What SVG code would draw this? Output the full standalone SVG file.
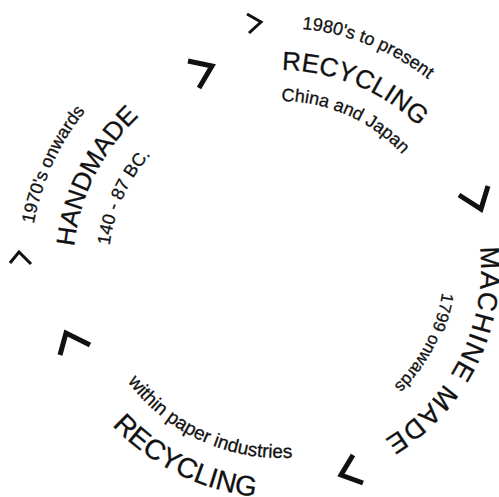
<svg xmlns="http://www.w3.org/2000/svg" xmlns:xlink="http://www.w3.org/1999/xlink" width="499" height="497" viewBox="0 0 499 497">
<style>
text{font-family:"Liberation Sans",Arial,sans-serif;fill:#111;stroke:#111;stroke-width:0.3;text-anchor:middle}
.main{font-size:26px}
.small{font-size:18px}
.chev{fill:none;stroke:#111;stroke-linejoin:miter;stroke-linecap:butt}
.big{stroke-width:5}
.sm{stroke-width:3}
</style>
<defs>
<path id="c250" d="M33.8,224.6 A250,250 0 0 1 526.2,224.6"/>
<path id="c240" d="M43.65,226.34 A240,240 0 0 1 516.35,226.34"/>
<path id="c207" d="M76.15,232.06 A207,207 0 0 1 483.85,232.06"/>
<path id="c201" d="M82.06,233.11 A201,201 0 0 1 477.94,233.11"/>
<path id="c198" d="M85.01,233.63 A198,198 0 0 1 474.99,233.63"/>
<path id="c172" d="M110.61,238.14 A172,172 0 0 1 449.39,238.14"/>
<path id="c167" d="M115.54,239.01 A167,167 0 0 1 444.46,239.01"/>
<path id="c164" d="M118.49,239.53 A164,164 0 0 1 441.51,239.53"/>
<path id="b190" d="M92.89,300.98 A190,190 0 0 0 467.11,300.98"/>
<path id="b230" d="M53.5,307.93 A230,230 0 0 0 506.5,307.93"/>
</defs>
<g id="recycling-top">
<text class="small" transform="rotate(21.7 280 268)"><textPath xlink:href="#c240" href="#c240" startOffset="50%">1980's to present</textPath></text>
<text class="main" transform="rotate(22.5 280 268)"><textPath xlink:href="#c198" href="#c198" startOffset="50%">RECYCLING</textPath></text>
<text class="small" transform="rotate(23.8 280 268)"><textPath xlink:href="#c167" href="#c167" startOffset="50%">China and Japan</textPath></text>
</g>
<g id="handmade">
<text class="small" transform="rotate(-65.5 280 268)"><textPath xlink:href="#c250" href="#c250" startOffset="50%">1970's onwards</textPath></text>
<text class="main" transform="rotate(-63.5 280 268)"><textPath xlink:href="#c207" href="#c207" startOffset="50%">HANDMADE</textPath></text>
<text class="small" transform="rotate(-65.6 280 268)"><textPath xlink:href="#c172" href="#c172" startOffset="50%">140 - 87 BC.</textPath></text>
</g>
<g id="machine-made">
<text class="main" style="font-size:27px;letter-spacing:1.5px" transform="rotate(116.5 280 268)"><textPath xlink:href="#c201" href="#c201" startOffset="50%">MACHINE MADE</textPath></text>
<text class="small" style="font-size:17px" transform="rotate(117.3 280 268)"><textPath xlink:href="#c164" href="#c164" startOffset="50%">1799 onwards</textPath></text>
</g>
<g id="recycling-bottom">
<text class="small" style="font-size:19px" transform="rotate(24.8 280 268)"><textPath xlink:href="#b190" href="#b190" startOffset="50%">within paper industries</textPath></text>
<text class="main" style="font-size:28px" transform="rotate(26.5 280 268)"><textPath xlink:href="#b230" href="#b230" startOffset="50%">RECYCLING</textPath></text>
</g>
<g id="connectors">
<polyline class="chev sm" points="247,14 261,22 249,33"/>
<polyline class="chev big" points="188,61 212,66 199,88"/>
<polyline class="chev big" points="459,195 481,209 488,186"/>
<polyline class="chev sm" points="10,263 19,252 31,264"/>
<polyline class="chev big" points="60,355 66,333 90,345"/>
<polyline class="chev big" points="353,455 341,475 363,483"/>
</g>
</svg>
